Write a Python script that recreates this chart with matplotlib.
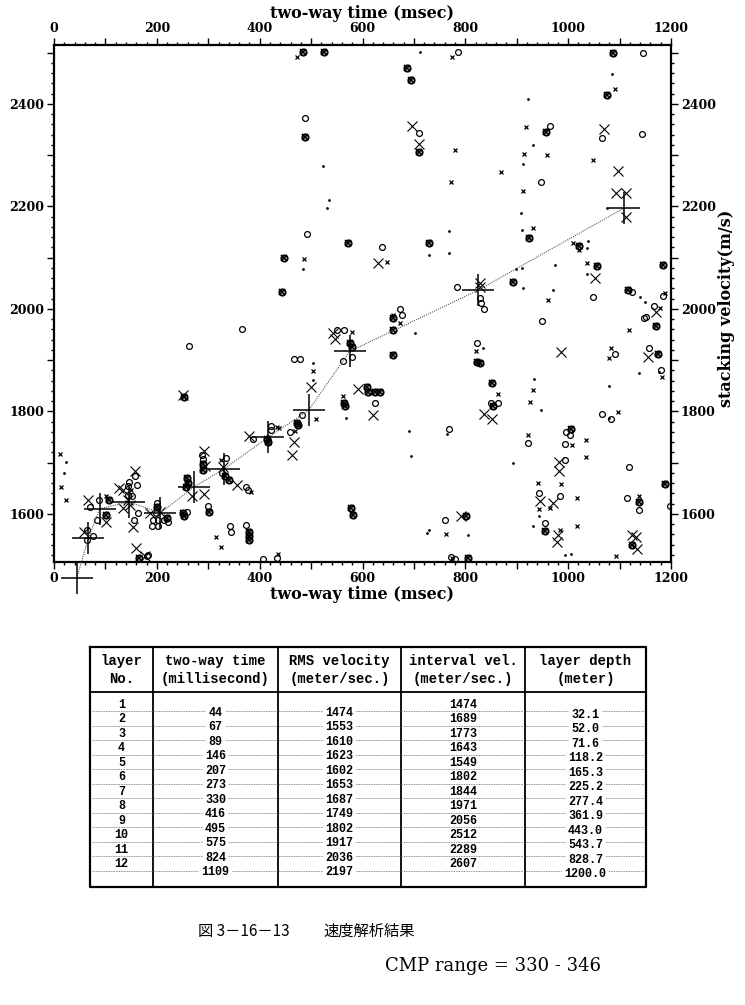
import numpy as np
import matplotlib.pyplot as plt
from matplotlib.ticker import MultipleLocator, FuncFormatter

# picked RMS velocities (big crosses + dotted function)
pick_time = [44, 67, 89, 146, 207, 273, 330, 416, 495, 575, 824, 1109]
pick_vrms = [1474, 1553, 1610, 1623, 1602, 1653, 1687, 1749, 1802, 1917, 2036, 2197]

# table columns
layer_no = list(range(1, 13))
interval_vel = [1474, 1689, 1773, 1643, 1549, 1802, 1844, 1971, 2056, 2512, 2289, 2607]
layer_depth = [32.1, 52.0, 71.6, 118.2, 165.3, 225.2, 277.4, 361.9, 443.0, 543.7, 828.7, 1200.0]

# semblance peaks (time msec, velocity m/s)
big_x = [(250, 1832), (58, 1564), (67, 1627), (102, 1585), (126, 1650), (158, 1684),
         (144, 1627), (148, 1618), (153, 1575), (135, 1647), (135, 1611), (187, 1601),
         (206, 1604), (269, 1634), (294, 1694), (292, 1638), (292, 1723), (328, 1692),
         (355, 1657), (159, 1533), (177, 1517), (380, 1751), (467, 1740), (463, 1715),
         (499, 1847), (592, 1843), (621, 1793), (631, 2089), (696, 2357), (710, 2321),
         (1070, 2351), (1096, 2269), (1094, 2226), (1112, 2226), (1112, 2180), (828, 2050),
         (828, 2043), (1171, 1993), (836, 1795), (852, 1785), (987, 1915), (982, 1702),
         (982, 1683), (945, 1625), (971, 1621), (980, 1559), (979, 1546), (792, 1595),
         (1125, 1558), (1132, 1554), (1133, 1531), (543, 1953), (547, 1941), (1155, 1907),
         (1052, 2060)]
small_x = [(473, 2491), (487, 2098), (647, 2091), (775, 2492), (1091, 2429), (780, 2310),
           (918, 2354), (915, 2302), (958, 2300), (869, 2268), (772, 2248), (912, 2230),
           (1049, 2291), (931, 2157), (1021, 2114), (1037, 2089), (961, 2018), (1189, 2031),
           (1179, 2001), (12, 1717), (13, 1653), (23, 1627), (579, 1954), (504, 1878),
           (510, 1785), (563, 1829), (325, 1705), (383, 1642), (316, 1555), (325, 1535),
           (436, 1522), (775, 1514), (433, 1770), (438, 1768), (469, 1761), (673, 1972),
           (660, 1988), (821, 1917), (864, 1834), (932, 1841), (926, 1818), (921, 1754),
           (1008, 1735), (1035, 1744), (1035, 1711), (941, 1661), (986, 1659), (944, 1609),
           (965, 1611), (1018, 1631), (1018, 1577), (984, 1569), (762, 1560), (1094, 1517),
           (1137, 1634), (1080, 1904), (1083, 1923), (1119, 1958), (1096, 1798), (1182, 1868),
           (102, 1634), (149, 1647), (1010, 2128)]
small_o = [(488, 2372), (493, 2146), (637, 2120), (786, 2502), (1146, 2500), (710, 2344),
           (947, 2248), (965, 2356), (1066, 2334), (1143, 2341), (783, 2043), (1049, 2024),
           (1124, 2033), (1184, 2025), (1166, 2006), (1151, 1985), (828, 2021), (830, 2011),
           (836, 1999), (365, 1960), (263, 1928), (550, 1959), (564, 1958), (579, 1907),
           (563, 1899), (467, 1902), (478, 1902), (624, 1816), (64, 1569), (64, 1548),
           (75, 1556), (88, 1627), (70, 1613), (84, 1588), (158, 1673), (146, 1663),
           (144, 1655), (143, 1637), (151, 1634), (156, 1588), (162, 1657), (164, 1601),
           (200, 1621), (198, 1601), (193, 1588), (203, 1588), (191, 1577), (202, 1577),
           (214, 1588), (222, 1585), (258, 1604), (288, 1715), (290, 1707), (300, 1616),
           (335, 1709), (326, 1679), (373, 1652), (378, 1647), (342, 1577), (344, 1564),
           (373, 1579), (180, 1517), (183, 1520), (407, 1512), (434, 1514), (388, 1746),
           (422, 1772), (423, 1764), (459, 1759), (482, 1793), (673, 2000), (676, 1988),
           (822, 1933), (850, 1817), (864, 1816), (950, 1977), (922, 1739), (768, 1766),
           (996, 1759), (1004, 1753), (993, 1736), (994, 1705), (944, 1640), (985, 1634),
           (955, 1582), (760, 1588), (772, 1516), (779, 1512), (1119, 1692), (1114, 1631),
           (1137, 1608), (1065, 1795), (1091, 1912), (1148, 1983), (1158, 1924), (1180, 1881),
           (1198, 1616), (1083, 1785)]
dots = [(523, 2279), (534, 2213), (530, 2197), (485, 2077), (712, 2502), (1086, 2459),
        (921, 2410), (931, 2319), (913, 2283), (1076, 2196), (908, 2187), (769, 2152),
        (911, 2154), (768, 2109), (730, 2105), (1036, 2068), (1038, 2133), (1037, 2118),
        (974, 2086), (910, 2079), (899, 2077), (912, 2040), (971, 2037), (1140, 2024),
        (1150, 2014), (702, 1953), (835, 1923), (934, 1863), (948, 1802), (892, 1700),
        (690, 1762), (694, 1712), (764, 1756), (944, 1596), (931, 1577), (994, 1520),
        (1006, 1522), (725, 1562), (729, 1569), (805, 1559), (1080, 1850), (1080, 1787),
        (1138, 1875), (1177, 1876), (504, 1894), (503, 1861), (568, 1787), (20, 1679),
        (23, 1702)]
# overlapping o + x (look bold in the scan)
bold = [(485, 2502), (526, 2502), (488, 2336), (572, 2128), (448, 2099), (443, 2032),
        (687, 2470), (694, 2447), (1087, 2500), (1075, 2418), (709, 2307), (956, 2346),
        (924, 2139), (730, 2128), (1057, 2084), (1185, 2086), (893, 2053), (1117, 2037),
        (576, 1933), (581, 1598), (577, 1611), (564, 1816), (565, 1811), (608, 1847),
        (611, 1837), (624, 1837), (634, 1837), (659, 1982), (659, 1958), (660, 1910),
        (823, 1897), (828, 1895), (851, 1855), (854, 1811), (1006, 1766), (801, 1596),
        (955, 1567), (805, 1514), (1138, 1623), (1125, 1540), (1170, 1967), (1175, 1912),
        (1189, 1659), (106, 1627), (102, 1598), (200, 1614), (219, 1592), (250, 1601),
        (253, 1595), (258, 1670), (260, 1660), (256, 1653), (290, 1697), (290, 1686),
        (301, 1604), (333, 1673), (341, 1666), (380, 1565), (380, 1556), (380, 1549),
        (166, 1514), (414, 1746), (417, 1741), (472, 1777), (475, 1774), (1022, 2122),
        (253, 1828), (579, 1926)]

plt.rcParams['font.family'] = 'DejaVu Serif'
plt.rcParams['font.weight'] = 'bold'

W, H = 745, 1005
fig = plt.figure(figsize=(W / 100, H / 100), dpi=100)

# overlay in pixel coords for table and caption
ov = fig.add_axes([0, 0, 1, 1], zorder=0)
ov.set_xlim(0, W)
ov.set_ylim(H, 0)
ov.axis('off')

ax = fig.add_axes([54 / W, 1 - 562 / H, 617 / W, 517 / H], zorder=2)
ax.set_xlim(0, 1200)
ax.set_ylim(1506, 2515)


def pts(lst):
    a = np.array(lst, dtype=float)
    return a[:, 0], a[:, 1]


ax.plot(*pts(big_x), ls='none', marker='x', ms=6.5, mew=0.8, color='k')
ax.plot(*pts(small_x), ls='none', marker='x', ms=3.2, mew=0.9, color='k')
ax.plot(*pts(small_o), ls='none', marker='o', ms=4.2, mew=0.9, mfc='none', color='k')
ax.plot(*pts(dots), ls='none', marker='o', ms=2.0, mew=0, color='k')
ax.plot(*pts(bold), ls='none', marker='o', ms=4.5, mew=1.4, mfc='none', color='k')
ax.plot(*pts(bold), ls='none', marker='x', ms=4.5, mew=1.2, color='k')

# velocity function
ax.plot(pick_time, pick_vrms, ls=(0, (1, 1)), lw=0.8, color='0.35', clip_on=False, zorder=4)
ax.plot(pick_time, pick_vrms, ls='none', marker='+', ms=23, mew=1.1, color='k',
        clip_on=False, zorder=5)

fmt = FuncFormatter(lambda v, p: f'{v:.0f}' if round(v) % 200 == 0 else '')
for axis in (ax.xaxis, ax.yaxis):
    axis.set_major_locator(MultipleLocator(100))
    axis.set_minor_locator(MultipleLocator(20))
    axis.set_major_formatter(fmt)
ax.tick_params(which='both', direction='out', top=True, right=True,
               labeltop=True, labelright=True, width=1.0, labelsize=9)
ax.tick_params(which='major', length=5, pad=2)
ax.tick_params(which='minor', length=2.5)
for sp in ax.spines.values():
    sp.set_linewidth(1.6)

lab = dict(fontsize=11.5, fontweight='bold', family='DejaVu Serif', ha='center', va='center')
ax.text(0.5, 1.06, 'two-way time (msec)', transform=ax.transAxes, **lab)
ax.text(0.5, -0.062, 'two-way time (msec)', transform=ax.transAxes, **lab)
ax.text(1.09, 0.49, 'stacking velocity(m/s)', transform=ax.transAxes, rotation=90, **lab)

# ---- table ----
tx0, tx1 = 90, 646
ty0, ty_head, ty1 = 647, 692, 887
col_edges = [tx0, 153, 278, 401, 525, tx1]
col_mid = [(col_edges[i] + col_edges[i + 1]) / 2 for i in range(5)]

ov.plot([tx0, tx1, tx1, tx0, tx0], [ty0, ty0, ty1, ty1, ty0], color='k', lw=1.6)
ov.plot([tx0, tx1], [ty_head, ty_head], color='k', lw=1.3)
for xe in col_edges[1:-1]:
    ov.plot([xe, xe], [ty0, ty1], color='k', lw=1.3)

heads = [('layer', 'No.'), ('two-way time', '(millisecond)'), ('RMS velocity', '(meter/sec.)'),
         ('interval vel.', '(meter/sec.)'), ('layer depth', '(meter)')]
hfont = dict(family='Liberation Mono', fontweight='bold', fontsize=10, ha='center', va='center')
for cx, (h1, h2) in zip(col_mid, heads):
    ov.text(cx, 661, h1, **hfont)
    ov.text(cx, 679, h2, **hfont)

row_y = 711 + 14.5 * np.arange(12)
for y in row_y:
    ov.plot([tx0 + 2, tx1 - 2], [y, y], color='0.4', lw=0.6, ls=(0, (1, 1)))

nfont = dict(family='Liberation Mono', fontweight='bold', fontsize=8.5, ha='center', va='center')
wbox = dict(facecolor='white', edgecolor='none', pad=1.5)
for i in range(12):
    y = row_y[i]
    ov.text(col_mid[0], y - 6.5, str(layer_no[i]), **nfont)
    ov.text(col_mid[1], y + 1.5, str(pick_time[i]), bbox=wbox, **nfont)
    ov.text(col_mid[2], y + 1.5, str(pick_vrms[i]), bbox=wbox, **nfont)
    ov.text(col_mid[3], y - 6.5, str(interval_vel[i]), **nfont)
    ov.text(col_mid[4], y + 3.5, f'{layer_depth[i]:.1f}', bbox=wbox, **nfont)

# ---- caption ----
ov.text(198, 931, '図 3－16－13', family=['Noto Sans CJK JP', 'DejaVu Sans'],
        fontweight='normal', fontsize=11, ha='left', va='center')
ov.text(323, 931, '速度解析結果', family=['Noto Sans CJK JP', 'DejaVu Sans'],
        fontweight='normal', fontsize=11, ha='left', va='center')
ov.text(385, 966, 'CMP range = 330 - 346', family='DejaVu Serif', fontweight='normal',
        fontsize=13, ha='left', va='center')

fig.savefig('out.png', dpi=100)
